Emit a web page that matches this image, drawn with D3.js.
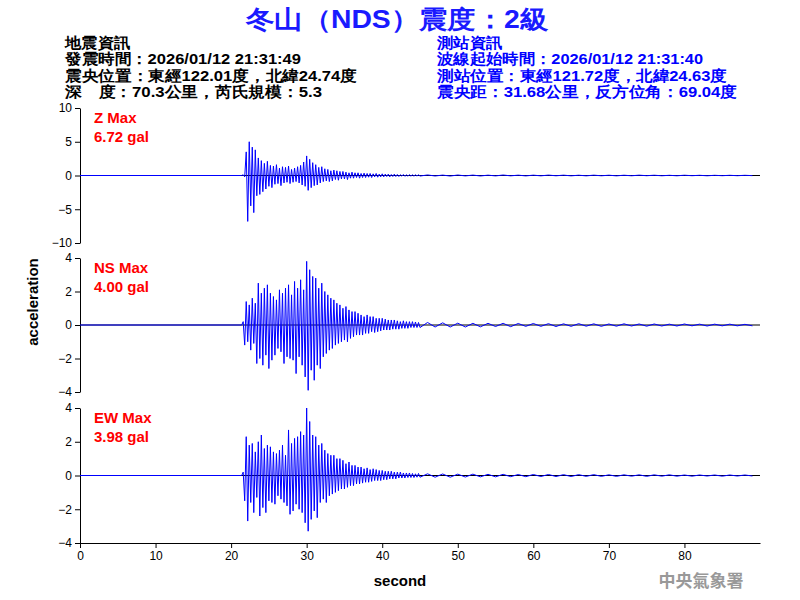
<!DOCTYPE html>
<html lang="zh-Hant">
<head>
<meta charset="UTF-8">
<title>冬山 NDS</title>
<script src="https://d3js.org/d3.v7.min.js"></script>
<style>
  body { margin: 0; background: #fff; }
  svg { display: block; font-family: "Liberation Sans", Arial, sans-serif; }
</style>
</head>
<body>
<svg id="chart" width="800" height="600"></svg>
<script>
const leftInfo = ["地震資訊", "發震時間：2026/01/12 21:31:49", "震央位置：東經122.01度，北緯24.74度", "深　度：70.3公里，芮氏規模：5.3"];
const rightInfo = ["測站資訊", "波線起始時間：2026/01/12 21:31:40", "測站位置：東經121.72度，北緯24.63度", "震央距：31.68公里，反方位角：69.04度"];
const leftWidths = [65, 236, 292, 257];
const rightWidths = [65, 266, 290, 300];

const components = ["Z", "NS", "EW"];
const maxLabels = ["6.72 gal", "4.00 gal", "3.98 gal"];
const yLimits = [10, 4, 4];
const yTicks = [[10, 5, 0, -5, -10], [4, 2, 0, -2, -4], [4, 2, 0, -2, -4]];
const xTicks = [0, 10, 20, 30, 40, 50, 60, 70, 80];

// main part sampled every 0.2 s from 21.4 s, tail every 1 s from 46 s
const mainStart = 21.4, mainStep = 0.2, tailStart = 46, tailStep = 1;
const zMain = [0,0.1,-0.2,3.5,-6.8,5,-4.5,4.2,-5.5,3.8,-3,2.6,-2.8,2.2,-2.4,1.8,-2,2.1,-1.6,1.5,
  -1.8,1.4,-1.3,1.6,-1.2,1.1,-1.5,1.3,-1.1,1.2,-1,1.4,-1.2,0.9,-1,1.1,-0.9,1.3,-1.1,1.5,
  -1.4,2,-1.6,2.9,-2.2,2.4,-1.8,1.9,-1.5,1.6,-1.4,1.2,-1.1,1.3,-0.9,1,-0.8,0.9,-0.9,0.7,
  -0.8,0.8,-0.6,0.7,-0.7,0.6,-0.5,0.6,-0.5,0.5,-0.6,0.4,-0.4,0.5,-0.4,0.4,-0.3,0.4,-0.4,0.3,
  -0.3,0.35,-0.3,0.3,-0.25,0.3,-0.3,0.25,-0.2,0.3,-0.25,0.2,-0.2,0.25,-0.2,0.2,-0.15,0.2,-0.2,0.15,
  -0.15,0.2,-0.15,0.15,-0.15,0.12,-0.1,0.15,-0.12,0.1,-0.1,0.12,-0.1,0.1,-0.1,0.1,-0.08,0.1,-0.08];
const nsMain = [0,0.2,-1.2,1.4,-1,1.2,-1.5,1.6,-1.1,1.3,-2.3,2.5,-2,1.9,-2.4,2.2,-1.8,2.4,-2.6,1.9,
  -2.1,1.7,-1.8,1.5,-1.4,2.1,-1.6,1.9,-2.3,2.2,-1.9,2.4,-2,1.8,-2.1,2.6,-2.9,2.2,-1.9,2.7,
  -2.4,2.1,-3.1,3.8,-3.9,3.3,-2.7,2.9,-3.3,2.8,-2.4,2.2,-2.6,2.5,-1.9,2,-1.7,1.8,-1.5,1.6,
  -1.4,1.5,-1.2,1.3,-1.1,1.2,-1,1,-0.9,1.1,-1,0.9,-0.8,0.8,-0.7,0.8,-0.6,0.7,-0.6,0.6,
  -0.6,0.5,-0.5,0.6,-0.5,0.5,-0.4,0.5,-0.45,0.4,-0.4,0.4,-0.35,0.4,-0.3,0.35,-0.3,0.3,-0.3,0.3,
  -0.25,0.3,-0.25,0.25,-0.25,0.2,-0.2,0.25,-0.2,0.2,-0.2,0.2,-0.15,0.2,-0.15,0.18,-0.15,0.15,-0.15];
const ewMain = [0,0.2,-1.5,2.3,-2.7,1.8,-1.6,1.9,-2.2,1.4,-1.3,2,-2.4,2.4,-1.9,1.6,-2.2,1.8,-1.5,1.7,
  -1.6,1.4,-1.7,1.3,-1.2,1.5,-1.4,1.8,-1.6,1.2,-1.8,2.7,-2.3,1.9,-2.1,2.2,-1.7,2.3,-2,2.6,
  -2.2,2.4,-2.8,4,-3.3,3.2,-2.6,2.4,-2.1,2.3,-2.5,1.8,-1.6,1.9,-1.4,1.5,-1.6,1.3,-1.2,1.2,
  -1.1,1.2,-1,1,-0.9,1,-0.8,0.9,-0.8,0.7,-0.7,0.8,-0.6,0.6,-0.6,0.6,-0.5,0.5,-0.5,0.5,
  -0.45,0.4,-0.4,0.45,-0.4,0.35,-0.35,0.4,-0.3,0.35,-0.3,0.3,-0.3,0.3,-0.25,0.25,-0.25,0.25,-0.2,0.25,
  -0.2,0.2,-0.2,0.2,-0.15,0.2,-0.15,0.15,-0.15,0.15,-0.12,0.15,-0.12,0.12,-0.12,0.1,-0.1,0.12,-0.1];
const zTail = [0.08,-0.07,0.06,-0.08,0.07,-0.06,0.06,-0.07,0.05,-0.06,0.07,-0.05,0.05,-0.06,0.05,-0.05,0.06,-0.04,0.05,-0.05,
  0.04,-0.05,0.05,-0.04,0.04,-0.05,0.04,-0.04,0.05,-0.03,0.04,-0.04,0.03,-0.04,0.04,-0.03,0.03,-0.04,0.03,-0.03,0.03,-0.03,0.03,-0.02];
const nsTail = [0.15,-0.12,0.13,-0.12,0.11,-0.12,0.1,-0.11,0.1,-0.09,0.1,-0.1,0.09,-0.08,0.09,-0.08,0.08,-0.09,0.07,-0.08,
  0.08,-0.07,0.07,-0.08,0.06,-0.07,0.07,-0.06,0.06,-0.07,0.06,-0.06,0.05,-0.06,0.06,-0.05,0.05,-0.06,0.05,-0.05,0.05,-0.05,0.04,-0.05];
const ewTail = [0.1,-0.1,0.09,-0.1,0.08,-0.09,0.08,-0.08,0.07,-0.08,0.07,-0.07,0.06,-0.07,0.06,-0.06,0.06,-0.06,0.05,-0.06,
  0.05,-0.05,0.05,-0.05,0.04,-0.05,0.04,-0.04,0.04,-0.05,0.04,-0.04,0.04,-0.04,0.03,-0.04,0.03,-0.03,0.03,-0.04,0.03,-0.03,0.03,-0.03];
const mains = [zMain, nsMain, ewMain];
const tails = [zTail, nsTail, ewTail];

const svg = d3.select("#chart");
const blue = "#0000ff";

svg.append("text").attr("x", 397).attr("y", 28).attr("text-anchor", "middle")
  .attr("fill", "#1a1aff").attr("font-size", 25).attr("font-weight", "bold")
  .attr("textLength", 302).attr("lengthAdjust", "spacingAndGlyphs")
  .text("冬山（NDS）震度：2級");

leftInfo.forEach((t, i) => svg.append("text").attr("x", 65).attr("y", 48 + i * 16.3)
  .attr("font-size", 15).attr("font-weight", "bold").attr("fill", "#000")
  .attr("textLength", leftWidths[i]).attr("lengthAdjust", "spacingAndGlyphs").text(t));
rightInfo.forEach((t, i) => svg.append("text").attr("x", 437).attr("y", 48 + i * 16.3)
  .attr("font-size", 15).attr("font-weight", "bold").attr("fill", blue)
  .attr("textLength", rightWidths[i]).attr("lengthAdjust", "spacingAndGlyphs").text(t));

const x = d3.scaleLinear().domain([0, 90]).range([80, 760]);
const panels = [[108, 243], [258, 392], [408, 543]];

components.forEach((c, i) => {
  const y = d3.scaleLinear().domain([-yLimits[i], yLimits[i]]).range([panels[i][1], panels[i][0]]);
  const g = svg.append("g");
  g.append("g").attr("transform", "translate(80,0)")
    .call(d3.axisLeft(y).tickValues(yTicks[i]).tickSize(5).tickSizeOuter(0))
    .call(a => a.selectAll("text").attr("font-size", 12).attr("fill", "#000"))
    .call(a => a.select(".domain").attr("stroke", "#000"));
  g.append("line").attr("x1", x(0)).attr("x2", x(90)).attr("y1", y(0)).attr("y2", y(0)).attr("stroke", "#000");

  const pts = [[0, 0], [mainStart, 0]];
  mains[i].forEach((v, k) => pts.push([mainStart + k * mainStep, v]));
  tails[i].forEach((v, k) => pts.push([tailStart + k * tailStep, v]));
  g.append("path").datum(pts).attr("fill", "none").attr("stroke", blue).attr("stroke-width", 1)
    .attr("d", d3.line().x(d => x(d[0])).y(d => y(d[1])));

  g.append("text").attr("x", 94).attr("y", panels[i][0] + 15).attr("fill", "#ff0000")
    .attr("font-size", 15).attr("font-weight", "bold").text(c + " Max");
  g.append("text").attr("x", 94).attr("y", panels[i][0] + 34).attr("fill", "#ff0000")
    .attr("font-size", 15).attr("font-weight", "bold").text(maxLabels[i]);
});

svg.append("g").attr("transform", "translate(0,543)")
  .call(d3.axisBottom(x).tickValues(xTicks).tickSize(5).tickSizeOuter(0))
  .call(a => a.selectAll("text").attr("font-size", 12).attr("fill", "#000"))
  .call(a => a.select(".domain").attr("stroke", "#000"));

svg.append("text").attr("x", 400).attr("y", 586).attr("text-anchor", "middle")
  .attr("font-size", 15).attr("font-weight", "bold").text("second");
svg.append("text").attr("transform", "translate(38,302) rotate(-90)").attr("text-anchor", "middle")
  .attr("font-size", 15).attr("font-weight", "bold").text("acceleration");
svg.append("text").attr("x", 701).attr("y", 587).attr("text-anchor", "middle")
  .attr("font-size", 17).attr("font-weight", "bold").attr("fill", "#999")
  .attr("font-family", "'Noto Sans CJK TC', sans-serif").text("中央氣象署");
</script>
</body>
</html>
